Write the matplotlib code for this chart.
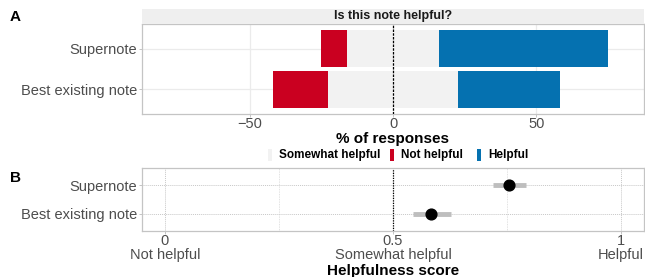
import matplotlib
matplotlib.use('Agg')
import matplotlib.pyplot as plt
from matplotlib.patches import Rectangle
import numpy as np

# ---- data ----
notes = ['Best existing note', 'Supernote']
not_helpful = [19.0, 9.0]
somewhat_helpful = [45.5, 32.0]
helpful = [35.5, 59.0]

score_mean = [0.583, 0.755]
score_low = [0.543, 0.720]
score_high = [0.628, 0.792]

pct_ticks = [-50, 0, 50]
pct_ticklabels = ['\u221250', '0', '50']
score_ticks = [0, 0.5, 1]
score_ticklabels = ['0\nNot helpful', '0.5\nSomewhat helpful', '1\nHelpful']
legend_labels = ['Somewhat helpful', 'Not helpful', 'Helpful']

# ---- style ----
plt.rcParams['font.family'] = ['Liberation Sans', 'DejaVu Sans']
C_RED = '#CA0020'
C_BLUE = '#0571B0'
C_GRAY = '#F2F2F2'
C_TXT = '#4D4D4D'
C_BORDER = '#C4C4C4'
C_GRID = '#EBEBEB'

W, H = 645, 277
fig = plt.figure(figsize=(W / 100, H / 100), dpi=100)

def fx(px):
    return px / W

def fy(py):
    return 1 - py / H

L, R = 142, 644
# ---- panel A ----
axA = fig.add_axes([fx(L), fy(114), fx(R - L), 90 / H])
y = np.arange(1, len(notes) + 1)
sw = np.array(somewhat_helpful)
nh = np.array(not_helpful)
hp = np.array(helpful)
bh = 0.9
axA.barh(y, sw, left=-sw / 2, height=bh, color=C_GRAY, zorder=2)
axA.barh(y, nh, left=-sw / 2 - nh, height=bh, color=C_RED, zorder=2)
axA.barh(y, hp, left=sw / 2, height=bh, color=C_BLUE, zorder=2)
axA.axvline(0, color='black', lw=0.9, ls=(0, (2, 1)), zorder=3)
axA.set_xlim(-87.5, 87.5)
axA.set_ylim(0.4, 2.6)
axA.set_yticks(y)
axA.set_yticklabels(notes)
axA.set_xticks(pct_ticks)
axA.set_xticklabels(pct_ticklabels)
axA.grid(True, color=C_GRID, lw=0.9, zorder=0)
axA.set_axisbelow(True)

# strip
fig.patches.append(Rectangle((fx(L), fy(24)), fx(R - L), 15 / H, transform=fig.transFigure,
                             facecolor='#EFEFEF', edgecolor='none'))
fig.text(fx((L + R) / 2), fy(16.5), 'Is this note helpful?', ha='center', va='center',
         fontsize=9, fontweight='bold', color='#1A1A1A')
fig.text(fx((L + R) / 2), fy(139), '% of responses', ha='center', va='center',
         fontsize=11, fontweight='bold', color='black')

# ---- panel B ----
axB = fig.add_axes([fx(L), fy(231), fx(R - L), 63 / H])
for i in range(len(notes)):
    axB.plot([score_low[i], score_high[i]], [y[i], y[i]], color='#BEBEBE', lw=3.5,
             solid_capstyle='butt', zorder=3)
axB.scatter(score_mean, y, s=60, color='black', zorder=4)
axB.axvline(0.5, color='black', lw=0.9, ls=(0, (1, 1)), zorder=2)
axB.set_xlim(-0.05, 1.05)
axB.set_ylim(0.4, 2.6)
axB.set_yticks(y)
axB.set_yticklabels(notes)
axB.set_xticks(score_ticks)
axB.set_xticklabels(score_ticklabels, linespacing=0.95)
axB.set_xticks([0.25, 0.75], minor=True)
axB.grid(True, which='major', color='#C8C8C8', lw=0.7, ls=(0, (1, 1)), zorder=0)
axB.grid(True, which='minor', axis='x', color='#D8D8D8', lw=0.6, ls=(0, (1, 1)), zorder=0)
axB.set_axisbelow(True)
fig.text(fx((L + R) / 2), fy(271), 'Helpfulness score', ha='center', va='center',
         fontsize=11, fontweight='bold', color='black')

for ax in (axA, axB):
    for s in ax.spines.values():
        s.set_color(C_BORDER)
        s.set_linewidth(0.9)
    ax.tick_params(axis='both', which='major', colors=C_BORDER, labelcolor=C_TXT,
                   labelsize=10.5, length=2.5, width=0.7, pad=1.0)
    ax.tick_params(axis='x', which='major', pad=0.0)
    ax.tick_params(axis='x', which='minor', length=0)

# ---- legend ----
leg_y = 155
items = [(268, C_GRAY, legend_labels[0]), (390, C_RED, legend_labels[1]), (477, C_BLUE, legend_labels[2])]
for x0, col, lab in items:
    fig.patches.append(Rectangle((fx(x0), fy(leg_y + 6)), fx(4), 12 / H, transform=fig.transFigure,
                                 facecolor=col, edgecolor='none'))
    fig.text(fx(x0 + 11), fy(leg_y), lab, ha='left', va='center', fontsize=8.5,
             fontweight='bold', color='black')

# panel letters
fig.text(fx(10), fy(17), 'A', ha='left', va='center', fontsize=11, fontweight='bold')
fig.text(fx(10), fy(178), 'B', ha='left', va='center', fontsize=11, fontweight='bold')

fig.savefig('out.png', dpi=100)
